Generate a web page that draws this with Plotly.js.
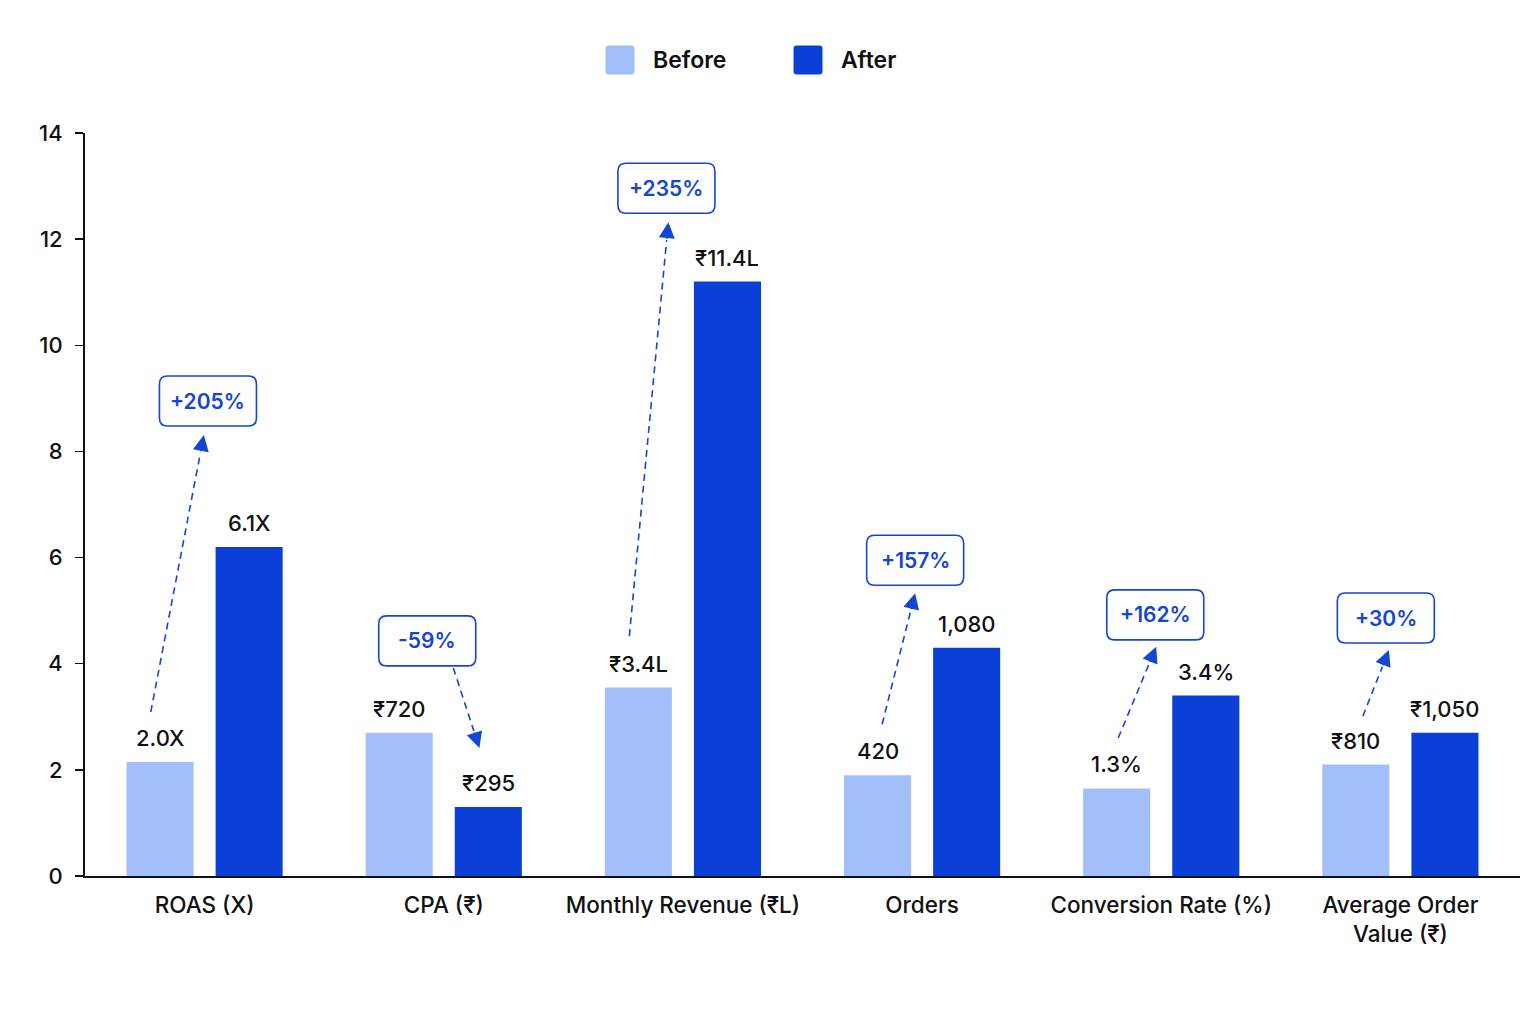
<!DOCTYPE html>
<html>
<head>
<meta charset="utf-8">
<script src="https://cdn.plot.ly/plotly-3.0.1.min.js"></script>
<style>
  html, body { margin: 0; padding: 0; background: #ffffff; }
  #chart { width: 1536px; height: 1024px; }
</style>
</head>
<body>
<div id="chart"></div>
<script>
// ---- data ----
const categories = ["ROAS (X)", "CPA (₹)", "Monthly Revenue (₹L)", "Orders", "Conversion Rate (%)", "Average Order<br>Value (₹)"];
const beforeValues = [2.15, 2.7, 3.55, 1.9, 1.65, 2.1];
const afterValues  = [6.2, 1.3, 11.2, 4.3, 3.4, 2.7];
const beforeLabels = ["2.0X", "₹720", "₹3.4L", "420", "1.3%", "₹810"];
const afterLabels  = ["6.1X", "₹295", "₹11.4L", "1,080", "3.4%", "₹1,050"];
const changeLabels = ["+205%", "-59%", "+235%", "+157%", "+162%", "+30%"];
const yTicks = [0, 2, 4, 6, 8, 10, 12, 14];

// ---- callout placement (layout only) ----
const boxPos   = [[0.014, 8.95], [0.931, 4.43], [1.931, 12.96], [2.971, 5.95], [3.975, 4.92], [4.939, 4.86]];
const arrStart = [[-0.225, 3.09], [1.04, 3.92], [1.776, 4.52], [2.833, 2.86], [3.82, 2.60], [4.843, 3.01]];
const arrTip   = [[-0.003, 8.31], [1.149, 2.41], [1.939, 12.32], [2.971, 5.33], [3.979, 4.32], [4.952, 4.26]];

const BEFORE = "#a3bffa";
const AFTER = "#0b40d8";
const ACCENT = "#1545d4";
const FONT = "Inter, 'Noto Sans', sans-serif";

const W = 1536, H = 1024;
const M = {l: 85, r: 16, t: 133, b: 148};
const plotW = W - M.l - M.r, plotH = H - M.t - M.b;
const pxPerCat = plotW / categories.length;
const yMax = 14;
const pxPerY = plotH / yMax;
const barOffset = 44.5 / pxPerCat;

const traces = [
  {type: "bar", name: "Before", x: categories.map((c, i) => i), y: beforeValues,
   marker: {color: BEFORE}, hoverinfo: "skip", showlegend: false},
  {type: "bar", name: "After", x: categories.map((c, i) => i), y: afterValues,
   marker: {color: AFTER}, hoverinfo: "skip", showlegend: false}
];

const annotations = [];
const shapes = [];

function roundRectPaper(cxPx, cyPx, w, h, r) {
  const X = p => (p - M.l) / plotW;
  const Y = p => (H - M.b - p) / plotH;
  const x0 = cxPx - w / 2, x1 = cxPx + w / 2, y0 = cyPx - h / 2, y1 = cyPx + h / 2;
  return `M${X(x0 + r)},${Y(y0)} L${X(x1 - r)},${Y(y0)} Q${X(x1)},${Y(y0)} ${X(x1)},${Y(y0 + r)} ` +
         `L${X(x1)},${Y(y1 - r)} Q${X(x1)},${Y(y1)} ${X(x1 - r)},${Y(y1)} ` +
         `L${X(x0 + r)},${Y(y1)} Q${X(x0)},${Y(y1)} ${X(x0)},${Y(y1 - r)} ` +
         `L${X(x0)},${Y(y0 + r)} Q${X(x0)},${Y(y0)} ${X(x0 + r)},${Y(y0)} Z`;
}
const dataToPx = (x, y) => [M.l + (x + 0.5) * pxPerCat, M.t + (yMax - y) * pxPerY];

// value labels
const valFont = {family: FONT, size: 22, color: "#111111", weight: 500};
categories.forEach((c, i) => {
  annotations.push({x: i - barOffset, y: beforeValues[i], text: beforeLabels[i], showarrow: false,
    yanchor: "bottom", yshift: 9, font: valFont});
  annotations.push({x: i + barOffset, y: afterValues[i], text: afterLabels[i], showarrow: false,
    yanchor: "bottom", yshift: 9, font: valFont});
});

// change callouts
changeLabels.forEach((lab, i) => {
  const s = arrStart[i], t = arrTip[i];
  const dxp = (t[0] - s[0]) * pxPerCat, dyp = -(t[1] - s[1]) * pxPerY;
  const len = Math.sqrt(dxp * dxp + dyp * dyp);
  const ux = dxp / len, uy = dyp / len;
  const headLen = 18;
  const baseX = t[0] - ux * headLen / pxPerCat;
  const baseY = t[1] + uy * headLen / pxPerY;
  shapes.push({type: "line", xref: "x", yref: "y", x0: s[0], y0: s[1], x1: baseX, y1: baseY,
    line: {color: ACCENT, width: 1.6, dash: "7px,5px"}});
  annotations.push({x: t[0], y: t[1], text: "", showarrow: true, arrowhead: 2, arrowsize: 2,
    arrowwidth: 1.6, arrowcolor: ACCENT, ax: -ux * headLen, ay: -uy * headLen, standoff: 0});
  const [cx, cy] = dataToPx(boxPos[i][0], boxPos[i][1]);
  shapes.push({type: "path", xref: "paper", yref: "paper", path: roundRectPaper(cx, cy, 97, 50, 8),
    fillcolor: "#ffffff", line: {color: ACCENT, width: 1.6}});
  annotations.push({x: boxPos[i][0], y: boxPos[i][1], text: lab, showarrow: false,
    font: {family: FONT, size: 21, color: ACCENT, weight: 600},
    xanchor: "center", yanchor: "middle"});
});

// manual legend
const legendItems = [{name: "Before", color: BEFORE, px: 620}, {name: "After", color: AFTER, px: 808}];
legendItems.forEach(it => {
  const xp = (it.px - M.l) / plotW;
  const yp = (H - M.b - 60) / plotH;
  shapes.push({type: "path", xref: "paper", yref: "paper", path: roundRectPaper(it.px, 60, 29, 29, 3),
    fillcolor: it.color, line: {width: 0}});
  annotations.push({xref: "paper", yref: "paper", x: xp, y: yp, xshift: 31, text: it.name,
    showarrow: false, xanchor: "left", yanchor: "middle",
    font: {family: FONT, size: 23, color: "#111111", weight: 600}});
});

const layout = {
  width: W, height: H,
  margin: M,
  paper_bgcolor: "#ffffff", plot_bgcolor: "#ffffff",
  font: {family: FONT, size: 22, color: "#111111"},
  barmode: "group", bargap: 0.255, bargroupgap: 0.247,
  showlegend: false,
  xaxis: {
    tickmode: "array", tickvals: categories.map((c, i) => i), ticktext: categories,
    range: [-0.5, categories.length - 0.5],
    showline: true, linecolor: "#111111", linewidth: 2, ticks: "",
    showgrid: false, zeroline: false, ticklabelstandoff: 8,
    tickfont: {family: FONT, size: 22.5, color: "#111111", weight: 500}
  },
  yaxis: {
    range: [0, yMax], tickvals: yTicks, ticks: "outside", ticklen: 8, tickwidth: 1.5, tickcolor: "#111111",
    showline: true, linecolor: "#111111", linewidth: 2, showgrid: false, zeroline: false,
    ticklabelstandoff: 8,
    tickfont: {family: FONT, size: 22, color: "#111111", weight: 500}
  },
  annotations: annotations,
  shapes: shapes
};

Plotly.newPlot("chart", traces, layout, {displayModeBar: false, staticPlot: true});
</script>
</body>
</html>
